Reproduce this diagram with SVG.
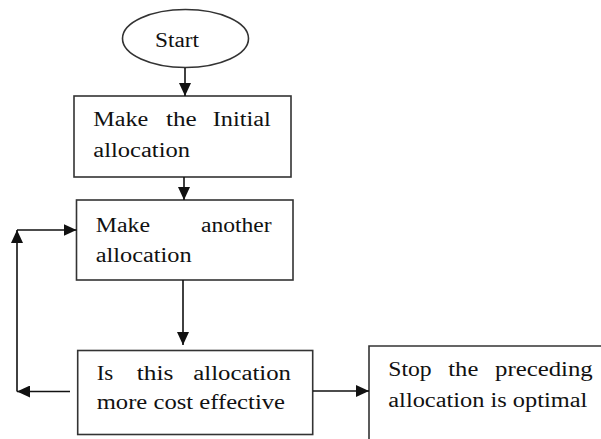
<svg xmlns="http://www.w3.org/2000/svg" width="601" height="439" viewBox="0 0 601 439">
<style>
.box{fill:#fff;stroke:#333;stroke-width:1.6}
.ln{fill:none;stroke:#111;stroke-width:1.6}
text{font-family:"Liberation Serif","Times New Roman",serif;font-size:20px;fill:#111}
</style>
<defs>
<marker id="ah" markerUnits="userSpaceOnUse" markerWidth="14" markerHeight="12" refX="13" refY="6" orient="auto">
<path d="M0,0 L13,6 L0,12 z" fill="#111"/>
</marker>
</defs>
<rect width="601" height="439" fill="#fff"/>
<g id="start">
<ellipse class="box" cx="185.5" cy="38.5" rx="63" ry="29"/>
<text x="155" y="47" textLength="44" lengthAdjust="spacingAndGlyphs">Start</text>
</g>
<g id="initial">
<rect class="box" x="74" y="96" width="217" height="81"/>
<text x="93.3" y="126" textLength="55" lengthAdjust="spacingAndGlyphs">Make</text>
<text x="166" y="126" textLength="30.7" lengthAdjust="spacingAndGlyphs">the</text>
<text x="212.7" y="126" textLength="58" lengthAdjust="spacingAndGlyphs">Initial</text>
<text x="93.3" y="157" textLength="96.7" lengthAdjust="spacingAndGlyphs">allocation</text>
</g>
<g id="another">
<rect class="box" x="76.5" y="200" width="216.5" height="80"/>
<text x="95.7" y="231.7" textLength="54.3" lengthAdjust="spacingAndGlyphs">Make</text>
<text x="201" y="231.7" textLength="70.7" lengthAdjust="spacingAndGlyphs">another</text>
<text x="95.7" y="261.7" textLength="96" lengthAdjust="spacingAndGlyphs">allocation</text>
</g>
<g id="decision">
<rect class="box" x="77.7" y="350.5" width="235" height="84"/>
<text x="96.7" y="380" textLength="16.6" lengthAdjust="spacingAndGlyphs">Is</text>
<text x="136.7" y="380" textLength="36.6" lengthAdjust="spacingAndGlyphs">this</text>
<text x="193.3" y="380" textLength="97.7" lengthAdjust="spacingAndGlyphs">allocation</text>
<text x="96.7" y="409" textLength="188.3" lengthAdjust="spacingAndGlyphs">more cost effective</text>
</g>
<g id="stop">
<path class="box" d="M369,440 V346 H602"/>
<text x="388.3" y="376" textLength="43.4" lengthAdjust="spacingAndGlyphs">Stop</text>
<text x="448.3" y="376" textLength="30" lengthAdjust="spacingAndGlyphs">the</text>
<text x="495" y="376" textLength="97.7" lengthAdjust="spacingAndGlyphs">preceding</text>
<text x="388.3" y="407" textLength="199" lengthAdjust="spacingAndGlyphs">allocation is optimal</text>
</g>
<g id="connectors">
<path class="ln" d="M185,68 V96" marker-end="url(#ah)"/>
<path class="ln" d="M184,177 V200" marker-end="url(#ah)"/>
<path class="ln" d="M183,280 V345" marker-end="url(#ah)"/>
<path class="ln" d="M313,391 H369" marker-end="url(#ah)"/>
<path class="ln" d="M70,391.5 H17" marker-end="url(#ah)"/>
<path class="ln" d="M17,391.5 V230" marker-end="url(#ah)"/>
<path class="ln" d="M17,230 H76.5" marker-end="url(#ah)"/>
</g>
</svg>
